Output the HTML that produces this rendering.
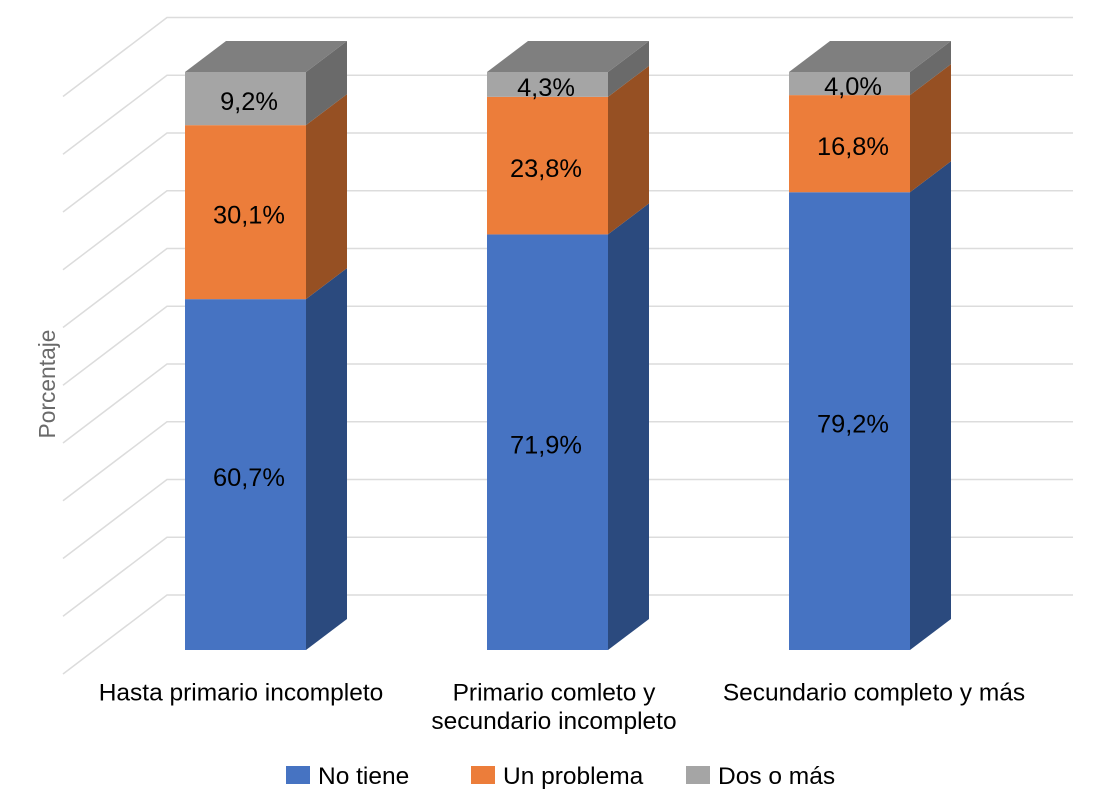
<!DOCTYPE html>
<html lang="es">
<head>
<meta charset="utf-8">
<title>Porcentaje por nivel educativo</title>
<style>
html,body{margin:0;padding:0;background:#fff;}
svg{display:block;}
text{font-family:"Liberation Sans",Arial,sans-serif;fill:#000;}
</style>
</head>
<body>
<svg id="chart" xmlns="http://www.w3.org/2000/svg" width="1098" height="802" viewBox="0 0 1098 802">
  <rect x="0" y="0" width="1098" height="802" fill="#ffffff"/>
  <g id="grid"></g>
  <g id="bars"></g>
  <g id="labels"></g>
  <text transform="translate(55,438.5) rotate(-90)" font-size="23" textLength="109" lengthAdjust="spacingAndGlyphs" style="fill:#6a6a6a">Porcentaje</text>
  <g id="cats"></g>
  <g id="legend"></g>
</svg>
<script>
const categories = [["Hasta primario incompleto"], ["Primario comleto y", "secundario incompleto"], ["Secundario completo y más"]];
const seriesNames = ["No tiene", "Un problema", "Dos o más"];
const noTiene = [60.7, 71.9, 79.2];
const unProblema = [30.1, 23.8, 16.8];
const dosOMas = [9.2, 4.3, 4.0];
const axisTicks = [0, 10, 20, 30, 40, 50, 60, 70, 80, 90, 100];

const NS = "http://www.w3.org/2000/svg";
const seriesValues = [noTiene, unProblema, dosOMas];
const frontColors = ["#4673C2", "#EC7D3A", "#A5A5A5"];
const sideColors = ["#2B4A7E", "#965023", "#6A6A6A"];
const topColor = "#7F7F7F";
const depthX = 41, depthY = 31;
const barW = 121;
const axisMax = axisTicks[axisTicks.length - 1];
function yFront(v) { return 650 - v * 578 / axisMax; }
function yBack(v) { return 595 - v * 577.5 / axisMax; }
function xBar(i) { return 185 + i * 302; }
const labelShift = [3.5, -1.5, 3.5];
const catCenters = [241, 554, 874];

function make(tag, attrs, parent, text) {
  const el = document.createElementNS(NS, tag);
  for (const k in attrs) el.setAttribute(k, attrs[k]);
  if (text !== undefined) el.textContent = text;
  parent.appendChild(el);
  return el;
}
const grid = document.getElementById("grid");
const bars = document.getElementById("bars");
const labels = document.getElementById("labels");
const cats = document.getElementById("cats");
const legend = document.getElementById("legend");

axisTicks.forEach(function (t) {
  const y = yBack(t);
  const line = make("polyline", {
    points: "63," + (y + 79) + " 167," + y + " 1073," + y,
    fill: "none", stroke: "#DCDCDC", "stroke-width": "1.5"
  }, grid);
  
  
});

categories.forEach(function (cat, i) {
  const x = xBar(i);
  let base = 0;
  seriesValues.forEach(function (vals, s) {
    const y0 = yFront(base);
    const y1 = yFront(base + vals[i]);
    const side = make("polygon", {
      points: (x + barW) + "," + y0 + " " + (x + barW + depthX) + "," + (y0 - depthY) + " " +
              (x + barW + depthX) + "," + (y1 - depthY) + " " + (x + barW) + "," + y1,
      fill: sideColors[s]
    }, bars);
    
    
    const front = make("rect", {
      x: x, y: y1, width: barW, height: y0 - y1, fill: frontColors[s]
    }, bars);
    
    
    const lab = make("text", {
      x: x + barW / 2 + labelShift[i], y: (y0 + y1) / 2 + 11.5,
      "text-anchor": "middle", "font-size": "25.4"
    }, labels, vals[i].toFixed(1).replace(".", ",") + "%");
    
    
    base += vals[i];
  });
  const yt = yFront(base);
  const top = make("polygon", {
    points: x + "," + yt + " " + (x + depthX) + "," + (yt - depthY) + " " +
            (x + barW + depthX) + "," + (yt - depthY) + " " + (x + barW) + "," + yt,
    fill: topColor
  }, bars);
  
  
  cat.forEach(function (ln, j) {
    const c = make("text", {
      x: catCenters[i], y: 700.5 + j * 28.5, "text-anchor": "middle", "font-size": "24.5"
    }, cats, ln);
    
    
  });
});

const legendX = [286, 471, 686];
seriesNames.forEach(function (name, s) {
  const sw = make("rect", { x: legendX[s], y: 766, width: 24, height: 18, fill: frontColors[s] }, legend);
  
  
  const tx = make("text", { x: legendX[s] + 32, y: 784, "font-size": "24.5" }, legend, name);
  
  
});
</script>
</body>
</html>
